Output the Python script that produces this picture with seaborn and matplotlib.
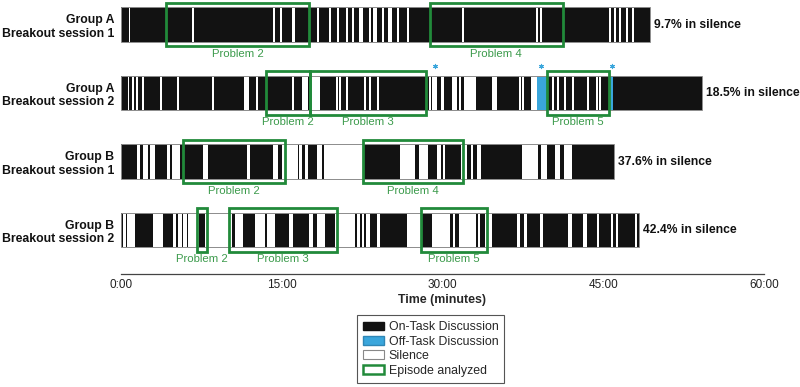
import numpy as np
import pandas as pd
import matplotlib
matplotlib.use('Agg')
import matplotlib.pyplot as plt
import seaborn as sns
from matplotlib.patches import Patch, Rectangle

# rows of the timeline
groups = ['Group A', 'Group A', 'Group B', 'Group B']
sessions = ['Breakout session 1', 'Breakout session 2', 'Breakout session 1', 'Breakout session 2']
session_minutes = [49.35, 54.2, 46.0, 48.32]
pct_silence = [9.7, 18.5, 37.6, 42.4]

# silence intervals (start, end) in minutes
silence_a1 = [(0.70, 0.84), (6.67, 6.81), (14.23, 14.37), (14.88, 15.02), (15.95, 16.28),
              (18.28, 18.47), (19.40, 19.59), (20.15, 20.34), (20.99, 21.18), (21.60, 21.78),
              (22.25, 22.57), (23.13, 23.32), (23.55, 23.88), (24.35, 24.53), (24.91, 25.28),
              (25.75, 25.93), (26.68, 26.87), (31.81, 32.00), (38.71, 38.90), (39.09, 39.27),
              (45.52, 45.71), (45.99, 46.18), (46.46, 46.64), (47.11, 47.29), (47.67, 47.85)]
silence_a2 = [(0.61, 0.75), (1.03, 1.21), (1.40, 1.59), (1.96, 2.15), (3.64, 3.82),
              (5.22, 5.41), (8.49, 8.68), (11.47, 11.94), (12.59, 12.78), (15.95, 16.14),
              (16.88, 17.44), (17.72, 18.56), (20.06, 20.24), (20.34, 20.52), (20.99, 21.18),
              (22.67, 22.85), (23.13, 23.32), (23.88, 24.07), (28.73, 28.92), (29.01, 29.48),
              (29.85, 30.13), (30.88, 31.34), (31.53, 31.72), (32.00, 33.12), (34.61, 35.07),
              (37.13, 37.31), (37.41, 37.59), (38.25, 38.81), (40.21, 40.39), (40.67, 40.86),
              (41.32, 41.51), (42.07, 42.26), (43.47, 43.66), (44.31, 44.50), (44.59, 44.78)]
silence_b1 = [(1.46, 1.77), (2.08, 2.55), (2.71, 3.17), (4.26, 4.57), (4.73, 5.50),
              (7.68, 8.14), (11.73, 12.03), (14.21, 14.67), (14.99, 16.48), (16.63, 16.86),
              (17.16, 17.47), (18.26, 18.72), (18.94, 22.60), (26.03, 27.43), (27.80, 28.64),
              (29.48, 29.85), (30.04, 30.22), (31.72, 32.28), (32.65, 32.84), (33.21, 33.58),
              (37.41, 38.90), (39.18, 39.74), (40.49, 40.95), (41.32, 42.07)]
silence_b2 = [(0.21, 0.47), (0.59, 1.31), (3.01, 3.95), (4.88, 5.13), (5.35, 5.66),
              (5.81, 6.13), (6.28, 7.30), (7.84, 10.38), (10.63, 11.35), (12.50, 13.43),
              (13.59, 14.37), (15.70, 16.01), (17.56, 17.88), (18.26, 19.03), (19.96, 21.83),
              (21.99, 22.29), (22.45, 22.67), (22.83, 23.23), (23.85, 24.16), (26.65, 27.96),
              (28.98, 30.69), (30.94, 31.16), (31.56, 33.12), (33.33, 33.49), (33.96, 34.58),
              (36.91, 37.22), (37.59, 37.85), (39.09, 39.34), (41.73, 42.04), (43.13, 43.44),
              (44.38, 44.62), (45.68, 45.92), (46.18, 46.39), (47.95, 48.16)]
silence_rows = [silence_a1, silence_a2, silence_b1, silence_b2]

# off-task discussion (only group A, session 2)
offtask_a2 = [(38.81, 39.74), (45.52, 45.90)]
offtask_marks_a2 = [29.3, 39.2, 45.8]

# analyzed episodes (label, start, end)
episodes_a1 = [('Problem 2', 4.20, 17.54), ('Problem 4', 28.82, 41.23)]
episodes_a2 = [('Problem 2', 13.53, 17.63), ('Problem 3', 17.63, 28.45), ('Problem 5', 39.74, 45.52)]
episodes_b1 = [('Problem 2', 5.78, 15.30), ('Problem 4', 22.57, 31.90)]
episodes_b2 = [('Problem 2', 7.09, 8.02), ('Problem 3', 10.07, 20.15), ('Problem 5', 27.99, 34.14)]
episode_rows = [episodes_a1, episodes_a2, episodes_b1, episodes_b2]

time_ticks = [0, 15, 30, 45, 60]
time_labels = ['0:00', '15:00', '30:00', '45:00', '60:00']

on_color = '#121212'
off_color = '#3aa6dc'
edge_green = '#218a3a'
text_green = '#3c9b4c'

sns.set_style('white')
plt.rcParams['font.family'] = ['Liberation Sans', 'DejaVu Sans']

fig = plt.figure(figsize=(8, 3.87), dpi=100)
ax = fig.add_axes([121 / 800, 1 - 274 / 387, 643 / 800, 274 / 387])

bar_h = 0.51
box_h = 0.63

df = pd.DataFrame({'row': [g + '\n' + s for g, s in zip(groups, sessions)],
                   'minutes': session_minutes})
sns.barplot(data=df, x='minutes', y='row', orient='h', color=on_color, saturation=1,
            width=bar_h, errorbar=None, edgecolor='none', linewidth=0, ax=ax)

for i, segs in enumerate(silence_rows):
    ax.broken_barh([(s, e - s) for s, e in segs], (i - bar_h / 2, bar_h),
                   facecolors='white', edgecolor='none', zorder=2)
ax.broken_barh([(s, e - s) for s, e in offtask_a2], (1 - bar_h / 2, bar_h),
               facecolors=off_color, edgecolor='none', zorder=2)

# thin outline round each session bar
for i, L in enumerate(session_minutes):
    ax.add_patch(Rectangle((0, i - bar_h / 2), L, bar_h, fill=False,
                           ec='#8c8c8c', lw=0.7, zorder=3))
    ax.text(L + 0.37, i, f'{pct_silence[i]}% in silence', ha='left', va='center',
            fontsize=8.7, fontweight='bold', color='#111111')

for i, eps in enumerate(episode_rows):
    for name, s, e in eps:
        ax.add_patch(Rectangle((s, i - box_h / 2), e - s, box_h, fill=False,
                               ec=edge_green, lw=2, zorder=4))
        ax.text((s + e) / 2, i + 0.43, name, ha='center', va='center',
                fontsize=8.2, color=text_green)

ax.scatter(offtask_marks_a2, [1 - 0.39] * len(offtask_marks_a2), marker=(6, 2, 0),
           s=9, color=off_color, linewidths=0.8, zorder=5, clip_on=False)

ax.set_xlim(0, 60)
ax.set_ylim(3.642, -0.358)
ax.set_xticks(time_ticks)
ax.set_xticklabels(time_labels)
ax.set_xlabel('Time (minutes)', fontsize=8.9, fontweight='bold', labelpad=2)
ax.set_ylabel('')
ax.tick_params(axis='x', length=0, pad=3.5, labelsize=8.5, colors='#222222')
ax.tick_params(axis='y', length=0, pad=5, labelsize=8.8)
for lbl in ax.get_yticklabels():
    lbl.set_fontweight('bold')
    lbl.set_color('#111111')

sns.despine(ax=ax, left=True)
ax.spines['bottom'].set_color('#444444')
ax.spines['bottom'].set_linewidth(0.9)

handles = [Patch(facecolor=on_color, edgecolor=on_color),
           Patch(facecolor=off_color, edgecolor='#2f86b5'),
           Patch(facecolor='white', edgecolor='#888888', linewidth=0.8),
           Patch(facecolor='white', edgecolor=edge_green, linewidth=1.8)]
labels = ['On-Task Discussion', 'Off-Task Discussion', 'Silence', 'Episode analyzed']
leg = fig.legend(handles, labels, loc='upper left', bbox_to_anchor=(357 / 800, 1 - 315 / 387),
                 frameon=True, fancybox=False, edgecolor='#555555', framealpha=1,
                 fontsize=8.9, handlelength=1.65, handleheight=0.7, handletextpad=0.4,
                 labelspacing=0.2, borderpad=0.5, borderaxespad=0)
leg.get_frame().set_linewidth(0.8)

fig.savefig('out.png', dpi=100)
